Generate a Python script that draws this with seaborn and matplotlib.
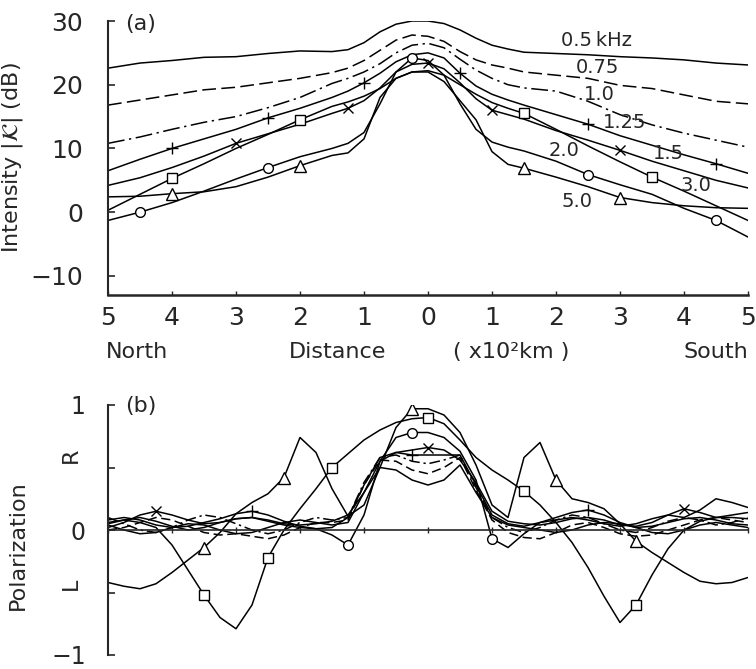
import numpy as np
import pandas as pd
import matplotlib
matplotlib.use("Agg")
import matplotlib.pyplot as plt
import seaborn as sns

sns.set_style("white")
plt.rcParams['font.family'] = ['DejaVu Sans']
plt.rcParams['mathtext.fontset'] = 'dejavusans'

# ---- panel (a): intensity (dB) vs distance (x100 km), north negative
dist_a = [-5, -4.5, -4, -3.5, -3, -2.5, -2, -1.5, -1.25, -1, -0.75, -0.5, -0.25, 0,
          0.25, 0.5, 0.75, 1, 1.25, 1.5, 2, 2.5, 3, 3.5, 4, 4.5, 5]
int_05 = [22.6, 23.4, 23.8, 24.3, 24.4, 24.9, 25.3, 25.2, 25.5, 26.6, 28.3, 29.5, 30.0, 30.0,
          29.6, 28.6, 27.3, 26.2, 25.6, 25.1, 24.9, 24.7, 24.4, 24.2, 23.9, 23.4, 23.1]
int_075 = [16.8, 17.6, 18.4, 19.2, 19.6, 20.3, 21.0, 21.9, 22.6, 23.8, 25.4, 27.0, 27.8, 27.6,
           26.8, 25.2, 23.9, 23.1, 22.6, 22.0, 21.5, 21.0, 19.9, 19.4, 18.4, 17.4, 17.0]
int_10 = [10.8, 11.8, 13.0, 14.1, 15.0, 16.4, 18.0, 20.2, 21.0, 22.0, 23.3, 25.0, 26.2, 26.5,
          25.8, 24.0, 22.3, 21.0, 20.0, 19.5, 19.0, 17.4, 15.3, 13.7, 12.4, 11.3, 10.2]
int_125 = [6.5, 8.3, 10.0, 11.5, 13.0, 14.8, 16.3, 18.0, 19.0, 20.3, 21.8, 23.6, 24.7, 25.0,
           24.2, 21.8, 19.8, 18.5, 17.6, 16.8, 15.3, 13.8, 12.0, 10.5, 9.0, 7.6, 6.1]
int_15 = [4.2, 5.4, 7.0, 8.8, 10.8, 12.3, 13.8, 15.5, 16.3, 17.5, 19.5, 22.0, 23.2, 23.4,
          22.5, 20.3, 17.8, 16.0, 15.3, 14.6, 12.8, 11.3, 9.7, 8.0, 6.5, 5.0, 3.8]
int_20 = [-1.3, 0.0, 1.5, 3.3, 5.2, 7.0, 8.7, 10.0, 10.8, 12.5, 17.0, 22.0, 24.2, 23.8,
          21.5, 17.0, 13.0, 11.0, 10.2, 9.6, 8.0, 5.9, 4.3, 2.8, 0.6, -1.3, -3.9]
int_30 = [0.3, 2.8, 5.3, 7.6, 10.0, 12.2, 14.5, 16.6, 17.3, 18.2, 19.4, 21.0, 22.0, 22.2,
          21.5, 20.0, 18.5, 17.2, 16.3, 15.5, 13.0, 10.4, 7.9, 5.5, 3.3, 1.0, -1.3]
int_50 = [2.4, 2.5, 2.9, 3.2, 4.0, 5.5, 7.3, 8.9, 9.3, 11.5, 18.0, 21.0, 22.0, 22.0,
          20.5, 17.5, 14.5, 9.5, 7.5, 6.9, 5.5, 4.0, 2.3, 1.5, 1.0, 0.7, 0.6]

labels_a = ['0.5\u2009kHz', '0.75', '1.0', '1.25', '1.5', '2.0', '3.0', '5.0']
label_x = [2.08, 2.31, 2.44, 2.73, 3.52, 1.88, 3.95, 2.08]
label_y = [27.0, 22.7, 18.5, 14.1, 9.2, 9.7, 4.2, 1.6]

# ---- panel (b): polarization vs distance
dist_b = np.linspace(-5, 5, 41)
pol_05 = [0.04, 0.0, -0.03, -0.02, 0.02, 0.05, 0.04, 0.0, -0.03, -0.02, 0.02, 0.06, 0.08, 0.06,
          0.04, 0.06, 0.3, 0.5, 0.48, 0.4, 0.36, 0.4, 0.52, 0.3, 0.1, 0.04, 0.02, 0.0,
          -0.02, 0.0, 0.04, 0.06, 0.05, 0.02, -0.02, -0.03, 0.0, 0.04, 0.06, 0.04, 0.02]
pol_075 = [0.0, 0.02, 0.06, 0.1, 0.08, 0.03, -0.02, -0.04, -0.03, -0.05, -0.07, -0.04, 0.02, 0.06,
           0.06, 0.08, 0.36, 0.56, 0.55, 0.48, 0.45, 0.5, 0.58, 0.32, 0.08, -0.02, -0.06, -0.07,
           -0.02, 0.04, 0.06, 0.02, -0.03, -0.05, -0.04, 0.0, 0.04, 0.08, 0.1, 0.08, 0.06]
pol_10 = [0.1, 0.05, 0.0, -0.02, 0.02, 0.08, 0.12, 0.1, 0.05, 0.0, -0.03, 0.0, 0.06, 0.1,
          0.08, 0.1, 0.38, 0.58, 0.6, 0.55, 0.53, 0.56, 0.6, 0.34, 0.1, 0.02, -0.02, 0.02,
          0.08, 0.12, 0.1, 0.05, 0.0, -0.02, 0.02, 0.07, 0.1, 0.08, 0.04, 0.06, 0.1]
pol_125 = [0.08, 0.1, 0.08, 0.04, 0.02, 0.03, 0.06, 0.09, 0.13, 0.15, 0.12, 0.07, 0.03, 0.01,
           0.02, 0.1, 0.36, 0.58, 0.62, 0.6, 0.6, 0.6, 0.6, 0.36, 0.12, 0.05, 0.03, 0.06,
           0.1, 0.14, 0.16, 0.12, 0.06, 0.02, 0.03, 0.06, 0.09, 0.1, 0.08, 0.05, 0.04]
pol_15 = [0.02, 0.06, 0.12, 0.15, 0.12, 0.08, 0.05, 0.06, 0.09, 0.1, 0.08, 0.05, 0.04, 0.05,
          0.07, 0.12, 0.3, 0.55, 0.62, 0.64, 0.66, 0.64, 0.56, 0.38, 0.15, 0.07, 0.05, 0.04,
          0.06, 0.09, 0.1, 0.08, 0.04, 0.03, 0.06, 0.12, 0.17, 0.14, 0.1, 0.12, 0.14]
pol_20 = [0.05, 0.08, 0.1, 0.07, 0.03, 0.0, 0.02, 0.06, 0.09, 0.1, 0.07, 0.04, 0.02, 0.01,
          -0.04, -0.12, 0.12, 0.55, 0.74, 0.78, 0.78, 0.74, 0.63, 0.4, -0.07, -0.14, -0.03, 0.06,
          0.08, 0.1, 0.08, 0.05, 0.03, 0.05, 0.09, 0.12, 0.1, 0.16, 0.25, 0.22, 0.18]
pol_30 = [0.06, 0.08, 0.06, 0.02, -0.12, -0.32, -0.52, -0.7, -0.79, -0.6, -0.22, 0.0, 0.17, 0.33,
          0.5, 0.61, 0.72, 0.8, 0.86, 0.89, 0.9, 0.85, 0.72, 0.58, 0.48, 0.4, 0.31, 0.2,
          0.06, -0.1, -0.3, -0.53, -0.74, -0.6, -0.36, -0.15, 0.0, 0.07, 0.1, 0.1, 0.09]
pol_50 = [-0.42, -0.45, -0.47, -0.43, -0.34, -0.24, -0.14, -0.02, 0.13, 0.22, 0.29, 0.42, 0.74, 0.62,
          0.33, 0.11, 0.2, 0.5, 0.82, 0.97, 0.97, 0.92, 0.78, 0.52, 0.2, 0.1, 0.58, 0.7,
          0.4, 0.25, 0.22, 0.17, 0.05, -0.09, -0.18, -0.26, -0.34, -0.41, -0.43, -0.42, -0.38]

freqs = ['0.5', '0.75', '1.0', '1.25', '1.5', '2.0', '3.0', '5.0']
df_a = pd.DataFrame({'dist': dist_a, '0.5': int_05, '0.75': int_075, '1.0': int_10,
                     '1.25': int_125, '1.5': int_15, '2.0': int_20, '3.0': int_30, '5.0': int_50})
df_a = df_a.melt(id_vars='dist', var_name='freq', value_name='val')
df_b = pd.DataFrame({'dist': dist_b, '0.5': pol_05, '0.75': pol_075, '1.0': pol_10,
                     '1.25': pol_125, '1.5': pol_15, '2.0': pol_20, '3.0': pol_30, '5.0': pol_50})
df_b = df_b.melt(id_vars='dist', var_name='freq', value_name='val')

# line style / marker per frequency
styles = {'0.5': '-', '0.75': (0, (9, 3.5)), '1.0': (0, (11, 3, 1.5, 3)),
          '1.25': '-', '1.5': '-', '2.0': '-', '3.0': '-', '5.0': '-'}
styles_b = {'0.5': '-', '0.75': (0, (6, 3)), '1.0': (0, (7, 2.5, 1.5, 2.5)),
            '1.25': '-', '1.5': '-', '2.0': '-', '3.0': '-', '5.0': '-'}
marks = {'1.25': ('+', 9), '1.5': ('x', 6.5), '2.0': ('o', 7), '3.0': ('s', 7.5), '5.0': ('^', 8.5)}
every_a = {'1.25': [2, 5, 9, 15, 21, 25], '1.5': [4, 8, 13, 17, 22], '2.0': [1, 5, 12, 21, 25],
           '3.0': [2, 6, 19, 23], '5.0': [2, 6, 19, 22]}
every_b = {'1.25': [9, 19, 30], '1.5': [3, 20, 36], '2.0': [15, 19, 24],
           '3.0': [6, 10, 14, 20, 26, 33], '5.0': [6, 11, 19, 28, 33]}


def draw(ax, df, f, ls, every):
    sub = df[df['freq'] == f]
    mk, ms = marks.get(f, (None, 0))
    sns.lineplot(data=sub, x='dist', y='val', ax=ax, color='black', lw=1.1,
                 linestyle=ls, marker=mk, markevery=every.get(f), markersize=ms,
                 markerfacecolor='white', markeredgecolor='black', markeredgewidth=1.0,
                 estimator=None, sort=False, legend=False)


fig = plt.figure(figsize=(7.56, 6.69), dpi=100)
ax_a = fig.add_axes([108 / 756, 374 / 669, 640 / 756, 274 / 669])
ax_b = fig.add_axes([108 / 756, 14 / 669, 640 / 756, 250 / 669])

# ---- (a)
for f in freqs:
    draw(ax_a, df_a, f, styles[f], every_a)
for t, x, y in zip(labels_a, label_x, label_y):
    ax_a.text(x, y, t, fontsize=14, ha='left', va='center', zorder=5)

ax_a.set_xlim(-5, 5)
ax_a.set_ylim(-13.0, 30)
ax_a.set_yticks([-10, 0, 10, 20, 30])
ax_a.set_yticklabels(['\u221210', '0', '10', '20', '30'])
ax_a.set_xticks(range(-5, 6))
ax_a.set_xticklabels([str(abs(v)) for v in range(-5, 6)])
ax_a.tick_params(axis='y', direction='in', length=5, width=1.2, labelsize=18, pad=18, left=True)
ax_a.tick_params(axis='x', direction='in', length=3, width=1.0, labelsize=18, pad=8, bottom=True)
for s in ['top', 'right']:
    ax_a.spines[s].set_visible(False)
ax_a.spines['left'].set_linewidth(1.5)
ax_a.spines['bottom'].set_linewidth(1.8)
ax_a.set_xlabel('')
ax_a.set_ylabel(r'Intensity $|\mathcal{K}|$ (dB)', fontsize=16)
ax_a.yaxis.set_label_coords(-0.13, 0.5)
ax_a.text(-4.73, 29.6, '(a)', fontsize=16, ha='left', va='center')

fig.text(137 / 756, 1 - 352 / 669, 'North', fontsize=16, ha='center', va='center')
fig.text(338 / 756, 1 - 352 / 669, 'Distance', fontsize=16, ha='center', va='center')
fig.text(511 / 756, 1 - 352 / 669, '( x10\u00b2km )', fontsize=16, ha='center', va='center')
fig.text(748 / 756, 1 - 352 / 669, 'South', fontsize=16, ha='right', va='center')

# ---- (b)
for f in freqs:
    draw(ax_b, df_b, f, styles_b[f], every_b)

ax_b.set_xlim(-5, 5)
ax_b.set_ylim(-1, 1)
ax_b.set_yticks([-1, -0.5, 0, 0.5, 1])
ax_b.set_yticklabels(['\u22121', '', '0', '', '1'])
ax_b.set_xticks(range(-5, 6))
ax_b.set_xticklabels([])
ax_b.tick_params(axis='y', direction='in', length=5, width=1.2, labelsize=17, pad=16, left=True)
ax_b.tick_params(axis='x', direction='inout', length=5, width=1.0, bottom=True)
for s in ['top', 'right']:
    ax_b.spines[s].set_visible(False)
ax_b.spines['bottom'].set_position(('data', 0))
ax_b.spines['bottom'].set_linewidth(1.2)
ax_b.spines['left'].set_linewidth(1.5)
ax_b.set_xlabel('')
ax_b.set_ylabel('Polarization', fontsize=16)
ax_b.yaxis.set_label_coords(-0.125, 0.44)
ax_b.text(-5.58, 0.6, 'R', fontsize=16, rotation=90, ha='center', va='center', clip_on=False)
ax_b.text(-5.58, -0.43, 'L', fontsize=16, rotation=90, ha='center', va='center', clip_on=False)
ax_b.text(-4.73, 0.99, '(b)', fontsize=16, ha='left', va='center')

fig.savefig('out.png', dpi=100)
